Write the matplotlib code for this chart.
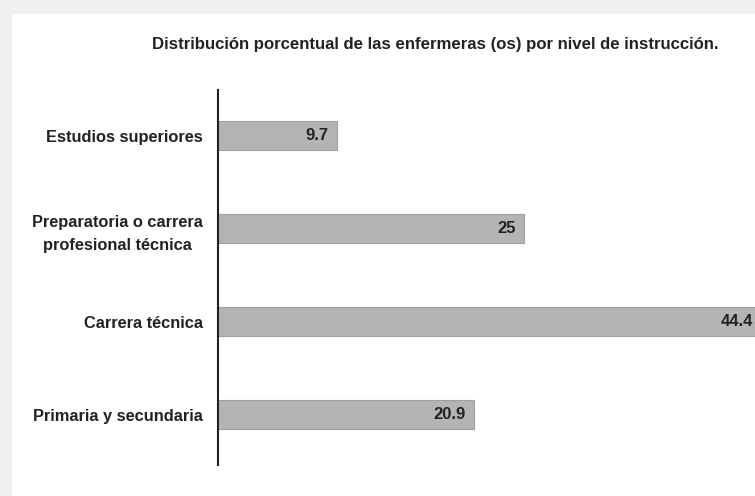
import matplotlib
matplotlib.use("Agg")
from matplotlib import pyplot as plt
import matplotlib.patches as patches

categories = [
    "Estudios superiores",
    "Preparatoria o carrera\nprofesional técnica",
    "Carrera técnica",
    "Primaria y secundaria",
]
values = [9.7, 25, 44.4, 20.9]
title = "Distribución porcentual de las enfermeras (os) por nivel de instrucción."

plt.rcParams["font.family"] = ["Liberation Sans Narrow", "Liberation Sans", "DejaVu Sans"]

fig = plt.figure(figsize=(7.55, 4.96), dpi=100)
fig.patch.set_facecolor("#efefef")
# white inner panel
fig.add_artist(patches.Rectangle((12 / 755, 0), 1, 1 - 14 / 496,
                                 transform=fig.transFigure, facecolor="white",
                                 edgecolor="none", zorder=0))

ax = fig.add_axes([218 / 755, 31 / 496, 1 - 218 / 755, 375 / 496])
ax.set_facecolor("none")
ypos = list(range(len(categories)))
ax.barh(ypos, values, height=0.31, color="#b4b4b4", edgecolor="#a0a0a0", linewidth=0.8)
ax.set_xlim(0, (755 - 218) / 12.25)
ax.set_ylim(3.54, -0.49)

for y, v in zip(ypos, values):
    ax.annotate(f"{v:g}", (v, y), xytext=(-6, 0), textcoords="offset points",
                ha="right", va="center", fontsize=12, fontweight="bold",
                color="#222222", annotation_clip=False)

ax.set_yticks(ypos)
ax.set_yticklabels(categories, fontsize=11.8, fontweight="bold", color="#222222",
                   multialignment="center", linespacing=1.65)
ax.tick_params(axis="y", length=0, pad=11)
ax.set_xticks([])
for s in ["top", "right", "bottom"]:
    ax.spines[s].set_visible(False)
ax.spines["left"].set_linewidth(1.5)
ax.spines["left"].set_color("#222222")

fig.text(435 / 755, 1 - 45 / 496, title, ha="center", va="center",
         fontsize=12.1, fontweight="bold", color="#222222")

fig.savefig("out.png", dpi=100, facecolor=fig.get_facecolor())
